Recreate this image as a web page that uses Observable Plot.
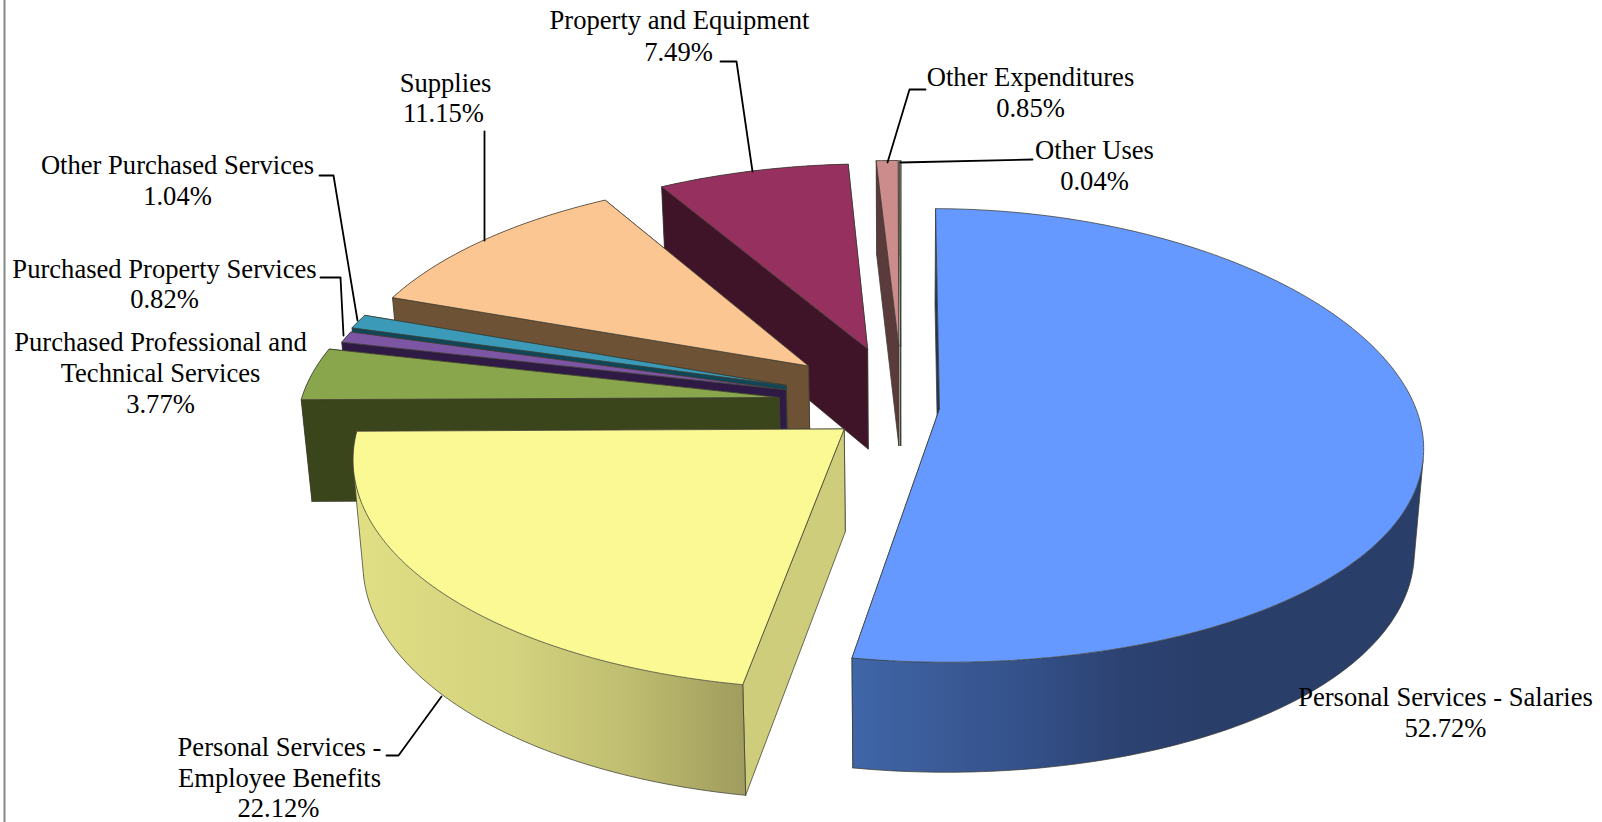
<!DOCTYPE html>
<html>
<head>
<meta charset="utf-8">
<style>html,body{margin:0;padding:0;background:#fff}svg{display:block}</style>
<script src="https://cdn.jsdelivr.net/npm/d3@7"></script>
<script src="https://cdn.jsdelivr.net/npm/@observablehq/plot@0.6"></script>
</head>
<body>
<div id="chart"></div>
<script>
// Share of expenditures by object, in percent
const categories = [
  "Personal Services - Salaries",
  "Personal Services - Employee Benefits",
  "Purchased Professional and Technical Services",
  "Purchased Property Services",
  "Other Purchased Services",
  "Supplies",
  "Property and Equipment",
  "Other Expenditures",
  "Other Uses"
];
const shares = [52.72, 22.12, 3.77, 0.82, 1.04, 11.15, 7.49, 0.85, 0.04];

// Slice colours: top face, cut faces, rim
const topColors = ["#6699ff", "#fbf993", "#8aa64d", "#7d56a3", "#3a9ab8", "#fcc693", "#95305f", "#cc8c8c", "#c9c9c9"];
const cutColors = ["#1f3560", "#cdcd7c", "#3a451b", "#2e1a45", "#0f4658", "#6e5236", "#3f1428", "#5a3a3a", "#777777"];
const rimColors = ["url(#rimBlue)", "url(#rimYellow)", "#3a451b", "#2e1a45", "#0f4658", "#6e5236", "#3f1428", "#5a3a3a", "#777777"];

// How far each slice is pulled out of the pie, in pie radii, and its drawn radius
const pullX = [0.077, -0.12, -0.258, -0.245, -0.245, -0.2, -0.075, -0.008, -0.004];
const pullY = [-0.006, -0.095, 0.045, 0.08, 0.10, 0.19, 0.27, 0.285, 0.285];
const radii = [1, 1.003, 1, 0.99, 0.99, 0.985, 0.98, 0.985, 0.985];

// Back-to-front painting order
const paintOrder = [7, 8, 6, 5, 4, 3, 2, 1, 0];

// Perspective of the tilted disc
const view = {cx: 902, cy: 407, sx: 480, sy: 223.4, depth: 102, persp: 0.117, shrink: 0.018, sag: 10};

function project(X, Y, Z) {
  const d = 1 + view.persp * Y;
  const right = Math.max(0, X);
  return {
    x: view.cx + (view.sx * X / d) * (1 - view.shrink * Z),
    y: view.cy - (view.sy * Y) / d + Z * view.depth * Math.pow(d, -0.6) + view.sag * right * right
  };
}

const toRad = Math.PI / 180;
let running = 0;
const slices = shares.map((share, i) => {
  const start = running * 3.6;
  running += share;
  return {i, start, end: running * 3.6, ox: pullX[i], oy: pullY[i], r: radii[i]};
});

function rimPoint(s, deg, Z) {
  return project(s.ox + s.r * Math.sin(deg * toRad), s.oy + s.r * Math.cos(deg * toRad), Z);
}
function rimArc(s, Z) {
  const n = Math.max(2, Math.ceil(s.end - s.start));
  return d3.range(n + 1).map((k) => rimPoint(s, s.start + ((s.end - s.start) * k) / n, Z));
}
const closed = (pts) => [...pts, pts[0]];

const outline = {stroke: "#3d3d33", strokeWidth: 1, strokeOpacity: 0.75};
const face = (pts, fill) => Plot.line(closed(pts), {x: "x", y: "y", fill, ...outline});

// Where the rim band folds behind the top face: the sign of the arc's turn
// against the vertical edge flips there. Slices on the front of the pie only
// paint the part between the fold and their front corner.
function visibleRange(s, top, low) {
  const side = (k) => {
    const ax = low[k].x - top[k].x, ay = low[k].y - top[k].y;
    const bx = top[k + 1].x - top[k].x, by = top[k + 1].y - top[k].y;
    return Math.sign(ax * by - ay * bx);
  };
  const last = top.length - 1;
  if (s.end > 270) return [0, last];
  if (s.start < 90) {
    // Front corner at the end of the arc
    let k = last - 1;
    while (k > 0 && side(k - 1) === side(last - 1)) k--;
    return [k, last];
  }
  // Front corner at the start of the arc
  let k = 0;
  while (k < last - 1 && side(k + 1) === side(0)) k++;
  return [0, k + 1];
}

function rimMarks(s) {
  const top = rimArc(s, 0);
  const low = rimArc(s, 1);
  const [a, b] = visibleRange(s, top, low);
  const topPart = top.slice(a, b + 1);
  const lowPart = low.slice(a, b + 1);
  const marks = [
    Plot.line(closed([...topPart, ...lowPart.slice().reverse()]), {x: "x", y: "y", fill: rimColors[s.i]}),
    Plot.line(lowPart, {x: "x", y: "y", ...outline})
  ];
  if (s.end <= 270) {
    marks.push(Plot.line([top[a], low[a]], {x: "x", y: "y", ...outline}));
    marks.push(Plot.line([top[b], low[b]], {x: "x", y: "y", ...outline}));
  }
  return marks;
}

const sliceMarks = paintOrder.flatMap((i) => {
  const s = slices[i];
  const apexTop = project(s.ox, s.oy, 0);
  const apexLow = project(s.ox, s.oy, 1);
  const cut = (deg) => [apexTop, rimPoint(s, deg, 0), rimPoint(s, deg, 1), apexLow];
  const cuts = [face(cut(s.end), cutColors[i]), face(cut(s.start), cutColors[i])];
  const rim = rimMarks(s);
  const sides = s.end <= 270 ? [...cuts, ...rim] : [...rim, ...cuts];
  return [...sides, face([apexTop, ...rimArc(s, 0)], topColors[i])];
});

// Label rows: the name is split over lines, the share is always the last one
const labelSpots = [
  {lines: ["Personal Services - Salaries"], x: [1445], y: [697], px: 1445, py: 728},
  {lines: ["Personal Services -", "Employee Benefits"], x: [279, 279], y: [747, 778], px: 278, py: 808},
  {lines: ["Purchased Professional and", "Technical Services"], x: [160, 160], y: [342, 373], px: 160, py: 404},
  {lines: ["Purchased Property Services"], x: [164], y: [269], px: 164, py: 299},
  {lines: ["Other Purchased Services"], x: [177], y: [165], px: 177, py: 196},
  {lines: ["Supplies"], x: [445], y: [83], px: 443, py: 113},
  {lines: ["Property and Equipment"], x: [679], y: [20], px: 678, py: 52},
  {lines: ["Other Expenditures"], x: [1030], y: [77], px: 1030, py: 108},
  {lines: ["Other Uses"], x: [1094], y: [150], px: 1094, py: 181}
];
const labelRows = labelSpots.flatMap((spot, i) => [
  ...spot.lines.map((text, k) => ({text, x: spot.x[k], y: spot.y[k]})),
  {text: shares[i].toFixed(2) + "%", x: spot.px, y: spot.py}
]);

// Leader lines from each label to its slice
const leaderPaths = [
  [1, [386, 755], [398, 755], [441, 696]],
  [3, [320, 277], [340, 277], [343, 335]],
  [4, [319, 175], [333, 175], [357, 320]],
  [5, [484, 131], [484, 240]],
  [6, [720, 61], [736, 61], [752, 171]],
  [7, [925, 89], [909, 89], [887, 162]],
  [8, [1032, 159], [900, 162]]
];
const leaderRows = leaderPaths.flatMap(([id, ...pts]) => pts.map(([x, y]) => ({id, x, y})));

const chart = Plot.plot({
  width: 1602,
  height: 822,
  margin: 0,
  x: {domain: [0, 1602], range: [0, 1602], axis: null},
  y: {domain: [0, 822], range: [0, 822], axis: null},
  style: {background: "#fff"},
  marks: [
    Plot.ruleX([4], {stroke: "#868686", strokeWidth: 2}),
    ...sliceMarks,
    Plot.line(leaderRows, {x: "x", y: "y", z: "id", stroke: "#000", strokeWidth: 1.8}),
    Plot.text(labelRows, {
      x: "x", y: "y", text: "text",
      fontFamily: "Liberation Serif", fontSize: 26.6, fill: "#000", textAnchor: "middle"
    })
  ]
});

// Shaded rims run along the screen x axis
const defs = d3.select(chart).insert("defs", ":first-child");
function rimGradient(id, x1, x2, stops) {
  const g = defs.append("linearGradient")
    .attr("id", id).attr("gradientUnits", "userSpaceOnUse")
    .attr("x1", x1).attr("x2", x2).attr("y1", 0).attr("y2", 0);
  stops.forEach(([o, c]) => g.append("stop").attr("offset", o).attr("stop-color", c));
}
rimGradient("rimBlue", 853, 1420, [[0, "#3f66a8"], [0.16, "#3a5a96"], [0.3, "#34518a"], [0.48, "#2c4271"], [0.62, "#2a3e6a"], [1, "#2a3e6a"]]);
rimGradient("rimYellow", 355, 745, [[0, "#e0df84"], [0.4, "#d4d37e"], [0.7, "#bfbd70"], [1, "#9f9c5e"]]);

document.getElementById("chart").appendChild(chart);
</script>
</body>
</html>
